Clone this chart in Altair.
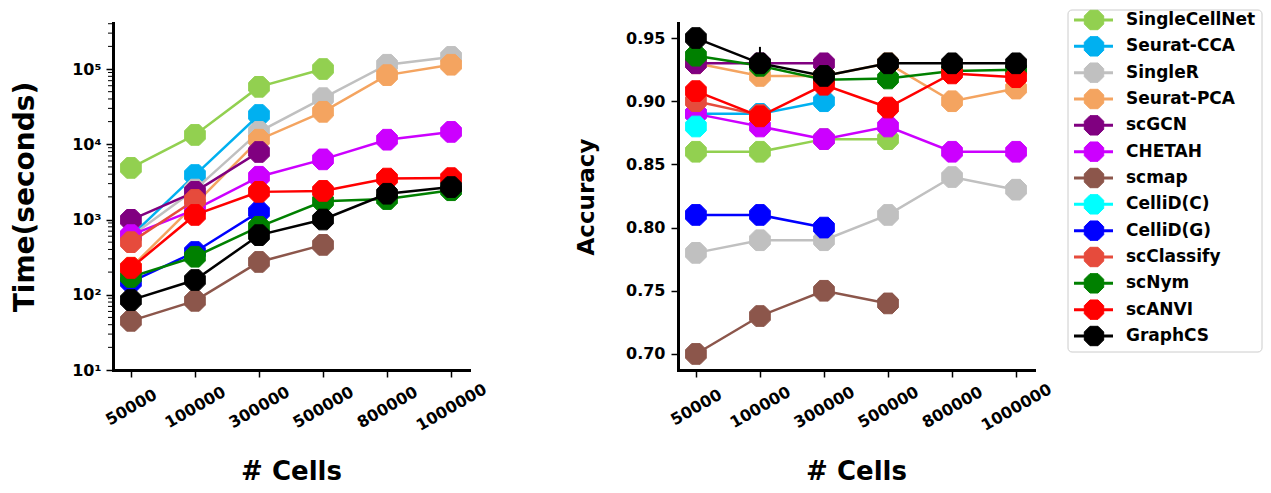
import altair as alt
import pandas as pd

cells = ["50000", "100000", "300000", "500000", "800000", "1000000"]

methods = ["SingleCellNet", "Seurat-CCA", "SingleR", "Seurat-PCA", "scGCN", "CHETAH",
           "scmap", "CelliD(C)", "CelliD(G)", "scClassify", "scNym", "scANVI", "GraphCS"]
colors = ["#92D050", "#00B0F0", "#C0C0C0", "#F4A460", "#800080", "#CC00FF",
          "#8C564B", "#00FFFF", "#0000FF", "#E64B3C", "#008000", "#FF0000", "#000000"]

# running time (seconds), one list per method, in order of `cells`
time_singlecellnet = [4850, 13300, 58000, 100000]
time_seurat_cca = [600, 3900, 24500]
time_singler = [600, 2500, 14600, 41000, 114000, 145000]
time_seurat_pca = [230, 1600, 11500, 27000, 83000, 114000]
time_scgcn = [990, 2330, 7900]
time_chetah = [620, 1350, 3700, 6300, 11500, 14600]
time_scmap = [45, 83, 273, 460]
time_cellid_c = []
time_cellid_g = [148, 370, 1260]
time_scclassify = [500, 1820]
time_scnym = [172, 320, 800, 1750, 1870, 2450]
time_scanvi = [227, 1150, 2330, 2400, 3500, 3550]
time_graphcs = [85, 157, 620, 1000, 2200, 2700]

# accuracy, one list per method, in order of `cells`
acc_singlecellnet = [0.86, 0.86, 0.87, 0.87]
acc_seurat_cca = [0.89, 0.89, 0.90]
acc_singler = [0.78, 0.79, 0.79, 0.81, 0.84, 0.83]
acc_seurat_pca = [0.93, 0.92, 0.92, 0.93, 0.90, 0.91]
acc_scgcn = [0.93, 0.93, 0.93]
acc_chetah = [0.89, 0.88, 0.87, 0.88, 0.86, 0.86]
acc_scmap = [0.70, 0.73, 0.75, 0.74]
acc_cellid_c = [0.88]
acc_cellid_g = [0.81, 0.81, 0.80]
acc_scclassify = [0.90, 0.889]
acc_scnym = [0.936, 0.928, 0.917, 0.918, 0.924, 0.925]
acc_scanvi = [0.908, 0.888, 0.913, 0.895, 0.922, 0.919]
acc_graphcs = [0.95, 0.93, 0.92, 0.93, 0.93, 0.93]

# small error bar on GraphCS at 100000 cells
err_cells = ["100000"]
err_lo = [0.93]
err_hi = [0.943]

time_lists = [time_singlecellnet, time_seurat_cca, time_singler, time_seurat_pca, time_scgcn,
              time_chetah, time_scmap, time_cellid_c, time_cellid_g, time_scclassify,
              time_scnym, time_scanvi, time_graphcs]
acc_lists = [acc_singlecellnet, acc_seurat_cca, acc_singler, acc_seurat_pca, acc_scgcn,
             acc_chetah, acc_scmap, acc_cellid_c, acc_cellid_g, acc_scclassify,
             acc_scnym, acc_scanvi, acc_graphcs]

time_ticks = [10, 100, 1000, 10000, 100000]
time_minor = [m * 10 ** k for k in range(1, 6) for m in range(2, 10) if m * 10 ** k < 409000]
acc_ticks = [0.70, 0.75, 0.80, 0.85, 0.90, 0.95]

FONT = "DejaVu Sans"
OCT = ("M0.383,-0.924 L0.924,-0.383 L0.924,0.383 L0.383,0.924 L-0.383,0.924 "
       "L-0.924,0.383 L-0.924,-0.383 L-0.383,-0.924 Z")

PW, PH = 356, 347

x_scale = alt.Scale(type="point", domain=cells, padding=0.28)
x_axis = alt.Axis(title="# Cells", labelAngle=330, labelAlign="center", labelBaseline="middle",
                  labelPadding=30, titleFontSize=26, titlePadding=25, labelOverlap=False)


def panel(lists, field, y_scale, y_axis, extra=None):
    layers = []
    for m, c, vals in zip(methods, colors, lists):
        if not vals:
            continue
        df = pd.DataFrame({"cells": cells[:len(vals)], field: vals, "method": m})
        base = alt.Chart(df).encode(
            x=alt.X("cells:O", sort=cells, scale=x_scale, axis=x_axis),
            y=alt.Y(f"{field}:Q", scale=y_scale, axis=y_axis),
        )
        if extra is not None and m == "GraphCS":
            layers.append(extra)
        layers.append(base.mark_line(color=c, strokeWidth=2.5))
        layers.append(base.mark_point(shape=OCT, size=500, filled=True, color=c, opacity=1,
                                      stroke=c, strokeWidth=1))
    return layers


time_scale = alt.Scale(type="log", domain=[10, 409000], nice=False)
time_axis = alt.Axis(title="Time(seconds)", values=time_ticks,
                     labelExpr="'10' + ['⁰','¹','²','³','⁴','⁵','⁶'][round(log(datum.value)/LN10)]",
                     titleFontSize=28, titlePadding=32, labelPadding=5, labelOverlap=False)

minor_df = pd.DataFrame({"t": time_minor})
minor_layer = alt.Chart(minor_df).mark_rule(color="black", strokeWidth=1).encode(
    y=alt.Y("t:Q", scale=time_scale, axis=time_axis),
    x=alt.value(-5), x2=alt.value(0),
)

left = alt.layer(*panel(time_lists, "time", time_scale, time_axis), minor_layer).properties(
    width=PW, height=PH)

acc_scale = alt.Scale(domain=[0.6873, 0.9619], nice=False, zero=False)
acc_axis = alt.Axis(title="Accuracy", values=acc_ticks, format=".2f", titleFontSize=23,
                    titlePadding=27, labelPadding=6, labelOverlap=False)

err_df = pd.DataFrame({"cells": err_cells, "lo": err_lo, "hi": err_hi})
err_layer = alt.Chart(err_df).mark_rule(color="black", strokeWidth=2).encode(
    x=alt.X("cells:O", sort=cells, scale=x_scale, axis=x_axis),
    y=alt.Y("lo:Q", scale=acc_scale, axis=acc_axis),
    y2="hi:Q",
)

right = alt.layer(*panel(acc_lists, "acc", acc_scale, acc_axis, extra=err_layer)).properties(
    width=PW, height=PH)

# legend panel
leg_df = pd.DataFrame({"method": methods, "color": colors})
leg_y = alt.Y("method:N", sort=methods,
              scale=alt.Scale(type="point", domain=methods, range=[-3, 313], padding=0),
              axis=None)
leg_color = alt.Color("method:N", scale=alt.Scale(domain=methods, range=colors), legend=None)
leg_stroke = alt.Stroke("method:N", scale=alt.Scale(domain=methods, range=colors), legend=None)

box = alt.Chart(pd.DataFrame({"k": [0]})).mark_rect(
    fill="white", stroke="#CCCCCC", strokeWidth=1, cornerRadius=4
).encode(x=alt.value(-175), x2=alt.value(19), y=alt.value(-13), y2=alt.value(329))

leg_base = alt.Chart(leg_df)
leg_lines = leg_base.mark_rule(strokeWidth=3).encode(
    y=leg_y, x=alt.value(-169), x2=alt.value(-130), color=leg_color)
leg_points = leg_base.mark_point(shape=OCT, size=440, filled=True, opacity=1, strokeWidth=1).encode(
    y=leg_y, x=alt.value(-149), color=leg_color, stroke=leg_stroke)
leg_text = leg_base.mark_text(align="left", baseline="middle", font=FONT, fontWeight="bold",
                              fontSize=17, color="black").encode(
    y=leg_y, x=alt.value(-117), text="method:N")

legend = alt.layer(box, leg_lines, leg_points, leg_text).properties(width=19, height=329)

chart = alt.hconcat(left, right, legend, spacing=209, bounds="flush").properties(
    padding={"left": 3, "top": 0, "right": 0, "bottom": 0}
).configure_view(stroke=None).configure_axis(
    grid=False, domainColor="black", domainWidth=3, domainCap="square",
    tickColor="black", tickWidth=1.5, tickSize=7,
    labelFont=FONT, labelFontWeight="bold", labelFontSize=16, labelColor="black",
    titleFont=FONT, titleFontWeight="bold", titleColor="black",
)

chart.save("out.html", embed_options={"renderer": "svg", "actions": False})
